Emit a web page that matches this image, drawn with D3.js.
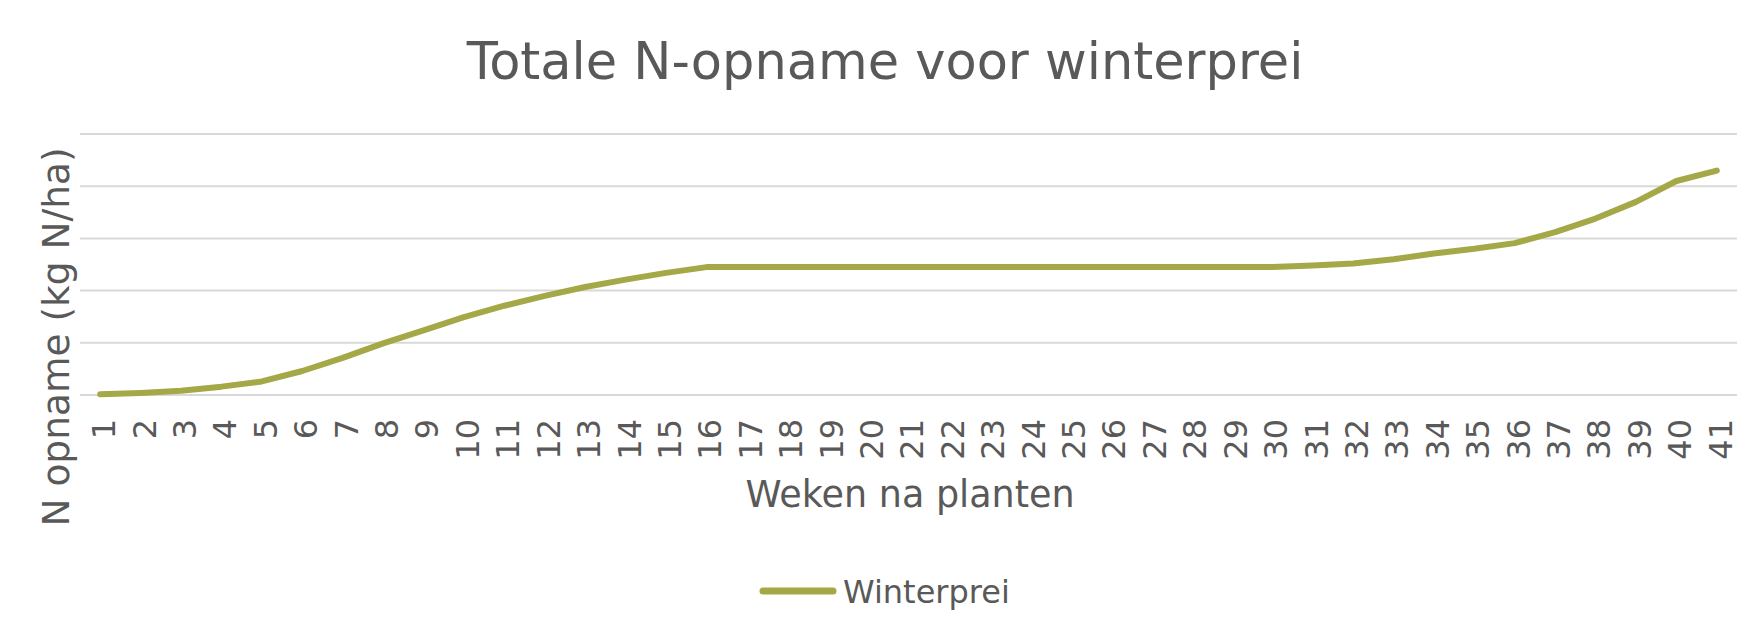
<!DOCTYPE html>
<html>
<head>
<meta charset="utf-8">
<script src="https://cdn.jsdelivr.net/npm/d3@7"></script>
<style>
  html, body { margin: 0; padding: 0; background: #fff; }
  svg { display: block; font-family: 'DejaVu Sans', Verdana, sans-serif; }
</style>
</head>
<body>
<div id="chart"></div>
<script>
// Data
const weeks = d3.range(1, 42).map(String);
const uptake = [
  0.7, 2, 4, 8, 13, 23, 35.5, 49.5, 62, 74.5,
  85.5, 95, 103.5, 110.5, 117, 122.5, 122.5, 122.5, 122.5, 122.5,
  122.5, 122.5, 122.5, 122.5, 122.5, 122.5, 122.5, 122.5, 122.5, 122.5,
  124, 126, 130, 135.5, 140, 145.5, 156, 169, 185, 205,
  215,
];
const yTicks = [0, 50, 100, 150, 200, 250];
const seriesName = 'Winterprei';

const width = 1762;
const height = 635;
const textColor = '#595959';
const lineColor = '#a5a846';

const svg = d3.select('#chart').append('svg')
  .attr('width', width)
  .attr('height', height)
  .attr('viewBox', `0 0 ${width} ${height}`);

const x = d3.scalePoint()
  .domain(weeks)
  .range([80, 1737])
  .padding(0.5);

const y = d3.scaleLinear()
  .domain([0, 250])
  .range([395, 134]);

// Gridlines
svg.append('g')
  .attr('class', 'grid')
  .selectAll('line')
  .data(yTicks)
  .join('line')
  .attr('x1', 80)
  .attr('x2', 1737)
  .attr('y1', d => y(d))
  .attr('y2', d => y(d))
  .attr('stroke', '#d9d9d9')
  .attr('stroke-width', 2);

// X axis, labels only (rotated)
const xAxis = svg.append('g')
  .attr('transform', `translate(0, ${y(0)})`)
  .call(d3.axisBottom(x).tickSize(0).tickPadding(0));

xAxis.select('.domain').remove();
xAxis.selectAll('text')
  .attr('transform', 'rotate(-90)')
  .attr('x', -24)
  .attr('y', 0)
  .attr('dy', '0.45em')
  .attr('text-anchor', 'end')
  .attr('fill', textColor)
  .style('font-size', '32px')
  .style('font-family', "'DejaVu Sans', Verdana, sans-serif");

// Series line
const line = d3.line()
  .x((d, i) => x(weeks[i]))
  .y(d => y(d));

svg.append('path')
  .datum(uptake)
  .attr('fill', 'none')
  .attr('stroke', lineColor)
  .attr('stroke-width', 6)
  .attr('stroke-linejoin', 'round')
  .attr('stroke-linecap', 'round')
  .attr('d', line);

// Titles
svg.append('text')
  .attr('x', 885)
  .attr('y', 79)
  .attr('text-anchor', 'middle')
  .attr('fill', textColor)
  .style('font-size', '51px')
  .text('Totale N-opname voor winterprei');

svg.append('text')
  .attr('x', 910)
  .attr('y', 507)
  .attr('text-anchor', 'middle')
  .attr('fill', textColor)
  .style('font-size', '36.5px')
  .text('Weken na planten');

svg.append('text')
  .attr('transform', 'translate(69, 337) rotate(-90)')
  .attr('text-anchor', 'middle')
  .attr('fill', textColor)
  .style('font-size', '37.5px')
  .text('N opname (kg N/ha)');

// Legend
const legend = svg.append('g');

legend.append('line')
  .attr('x1', 763)
  .attr('x2', 833)
  .attr('y1', 591)
  .attr('y2', 591)
  .attr('stroke', lineColor)
  .attr('stroke-width', 7)
  .attr('stroke-linecap', 'round');

legend.append('text')
  .attr('x', 843)
  .attr('y', 603)
  .attr('fill', textColor)
  .style('font-size', '32px')
  .text(seriesName);
</script>
</body>
</html>
